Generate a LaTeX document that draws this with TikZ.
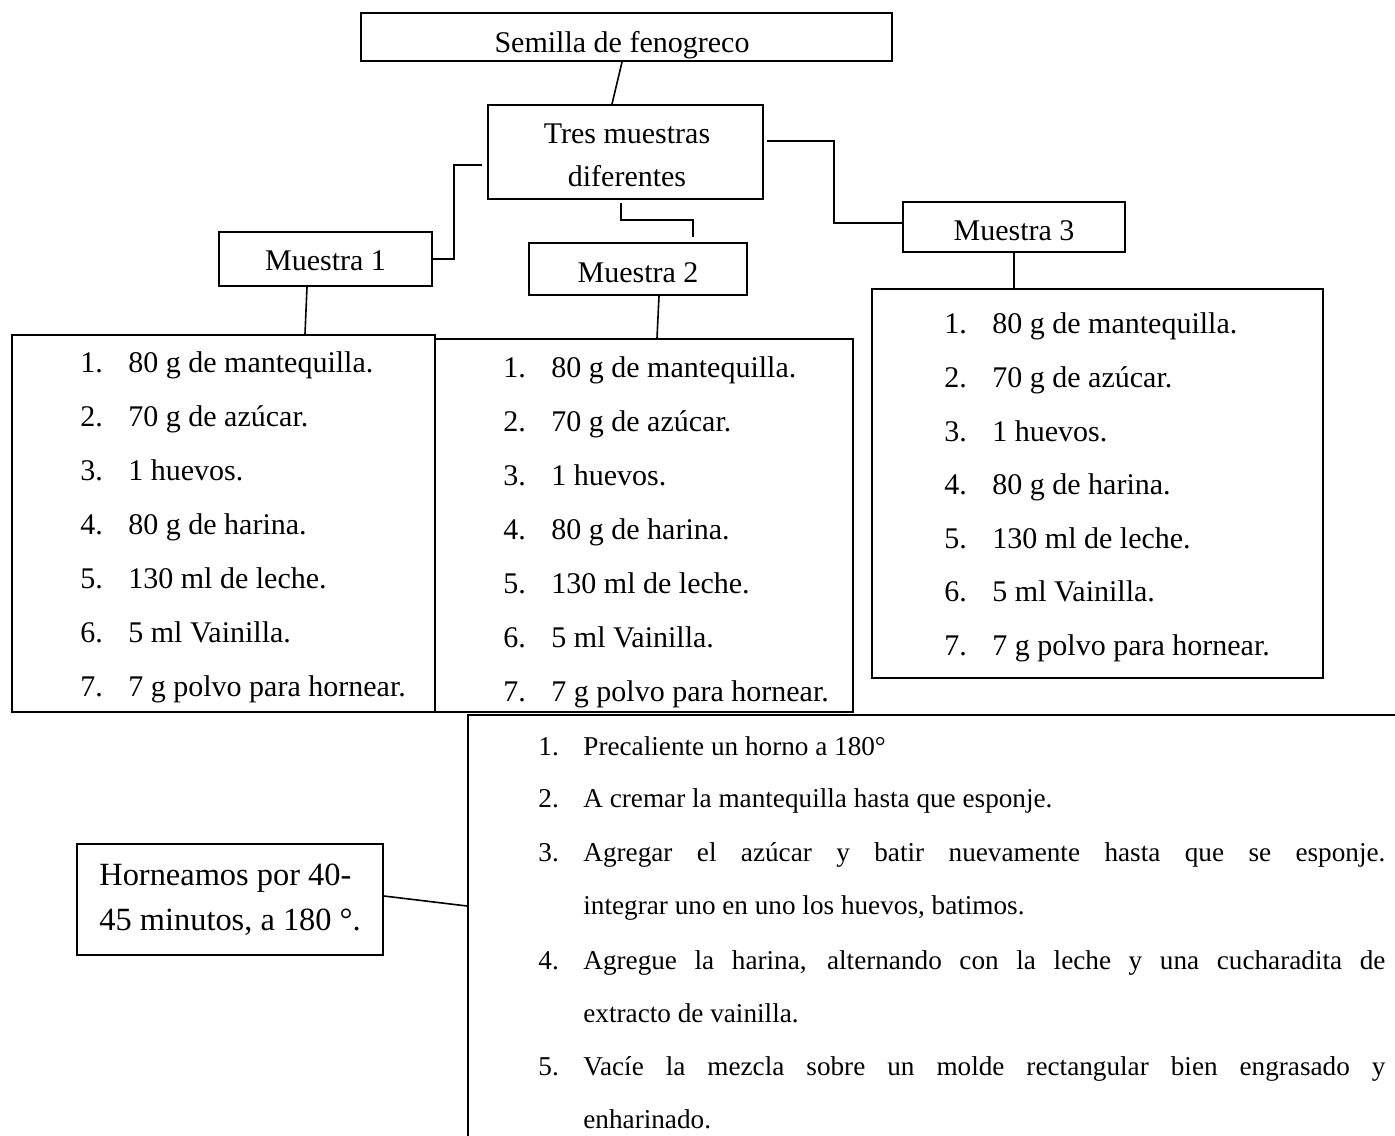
\documentclass[tikz,border=0pt]{standalone}
\usepackage{fontspec}
\setmainfont{Liberation Serif}
\usepackage{tikz}
\usetikzlibrary{positioning}
\newcommand{\itemfont}{\fontsize{15pt}{18pt}\selectfont}
\newcommand{\pasofont}{\fontsize{13.6pt}{16pt}\selectfont}
\newcommand{\hornofont}{\fontsize{16.2pt}{19pt}\selectfont}
\newcommand{\num}[1]{\makebox[24pt][l]{#1}}
\newcommand{\paso}[1]{\makebox[22.5pt][l]{#1}}

\begin{document}
\begin{tikzpicture}
[
  x=0.5pt, y=-0.5pt,
  box/.style={rectangle,draw=black,line width=1pt,inner sep=0pt},
  txt/.style={anchor=base west,inner sep=0pt,font=\itemfont},
  pasotxt/.style={anchor=base west,inner sep=0pt,font=\pasofont},
  mid/.style={anchor=base,inner sep=0pt,font=\itemfont},
  link/.style={draw=black,line width=0.8pt},
]
\useasboundingbox (0,0) rectangle (1395,1135);

% cajas
\node[box,minimum width=265.5pt,minimum height=24pt] (semilla) at (626.5,37) {};
\node[box,minimum width=137.5pt,minimum height=47pt] (tres) at (625.5,152) {};
\node[box,minimum width=106.5pt,minimum height=27pt] (m1) at (325.5,259) {};
\node[box,minimum width=109pt,minimum height=26pt] (m2) at (638,269) {};
\node[box,minimum width=111pt,minimum height=25pt] (m3) at (1014,227) {};
\node[box,minimum width=211.5pt,minimum height=188.5pt] (lista1) at (223.5,523.5) {};
\node[box,minimum width=209pt,minimum height=186.5pt] (lista2) at (644,525.5) {};
\node[box,minimum width=225.5pt,minimum height=194.5pt] (lista3) at (1097.5,483.5) {};
\node[box,minimum width=466pt,minimum height=222.5pt] (pasos) at (934,937.5) {};
\node[box,minimum width=153pt,minimum height=55.5pt] (horno) at (230,899.5) {};

% textos
\node[mid] (semillat) at (622,52) {Semilla de fenogreco};
\node[mid] (tres1) at (627,143) {Tres muestras};
\node[mid] (tres2) at (627,186) {diferentes};
\node[mid] (m1t) at (325.5,270) {Muestra 1};
\node[mid] (m2t) at (638,282) {Muestra 2};
\node[mid] (m3t) at (1014,240) {Muestra 3};

% muestra 1
\node[txt] (a1) at (80,372) {\num{1.}80 g de mantequilla.};
\node[txt] (a2) at (80,426) {\num{2.}70 g de azúcar.};
\node[txt] (a3) at (80,480) {\num{3.}1 huevos.};
\node[txt] (a4) at (80,534) {\num{4.}80 g de harina.};
\node[txt] (a5) at (80,588) {\num{5.}130 ml de leche.};
\node[txt] (a6) at (80,642) {\num{6.}5 ml Vainilla.};
\node[txt] (a7) at (80,696) {\num{7.}7 g polvo para hornear.};

% muestra 2
\node[txt] (b1) at (503,377) {\num{1.}80 g de mantequilla.};
\node[txt] (b2) at (503,431) {\num{2.}70 g de azúcar.};
\node[txt] (b3) at (503,485) {\num{3.}1 huevos.};
\node[txt] (b4) at (503,539) {\num{4.}80 g de harina.};
\node[txt] (b5) at (503,593) {\num{5.}130 ml de leche.};
\node[txt] (b6) at (503,647) {\num{6.}5 ml Vainilla.};
\node[txt] (b7) at (503,701) {\num{7.}7 g polvo para hornear.};

% muestra 3
\node[txt] (c1) at (944,333) {\num{1.}80 g de mantequilla.};
\node[txt] (c2) at (944,387) {\num{2.}70 g de azúcar.};
\node[txt] (c3) at (944,441) {\num{3.}1 huevos.};
\node[txt] (c4) at (944,494) {\num{4.}80 g de harina.};
\node[txt] (c5) at (944,548) {\num{5.}130 ml de leche.};
\node[txt] (c6) at (944,601) {\num{6.}5 ml Vainilla.};
\node[txt] (c7) at (944,655) {\num{7.}7 g polvo para hornear.};

% procedimiento
\node[pasotxt] (p1) at (538,755) {\paso{1.}Precaliente un horno a 180°};
\node[pasotxt] (p2) at (538,807) {\paso{2.}A cremar la mantequilla hasta que esponje.};
\node[pasotxt] (p3) at (538,861) {\paso{3.}\makebox[401pt][s]{Agregar el azúcar y batir nuevamente hasta que se esponje.}};
\node[pasotxt] (p3b) at (583,914) {integrar uno en uno los huevos, batimos.};
\node[pasotxt] (p4) at (538,969) {\paso{4.}\makebox[401pt][s]{Agregue la harina, alternando con la leche y una cucharadita de}};
\node[pasotxt] (p4b) at (583,1022) {extracto de vainilla.};
\node[pasotxt] (p5) at (538,1075) {\paso{5.}\makebox[401pt][s]{Vacíe la mezcla sobre un molde rectangular bien engrasado y}};
\node[pasotxt] (p5b) at (583,1128) {enharinado.};

\node[txt,font=\hornofont] (h1) at (99,885) {Horneamos por 40-};
\node[txt,font=\hornofont] (h2) at (99,930) {45 minutos, a 180 °.};

% conectores
\draw[link] ([xshift=-2.25pt]semilla.south) -- ([xshift=-6.75pt]tres.north);
\draw[link] ([xshift=-2.5pt,yshift=-6.5pt]tres.west) -- ++(-14pt,0pt) |- (m1.east);
\draw[link] ([xshift=-2.25pt,yshift=-1.5pt]tres.south) -- ++(0pt,-8.5pt) -| ([xshift=27.5pt,yshift=2.5pt]m2.north);
\draw[link] ([xshift=1.5pt,yshift=5.5pt]tres.east) -- ++(33.5pt,0pt) |- ([yshift=2pt]m3.west);
\draw[link] ([xshift=-9.25pt]m1.south) -- ([xshift=40.75pt]lista1.north);
\draw[link] ([xshift=10.5pt]m2.south) -- ([xshift=6.5pt]lista2.north);
\draw[link] (m3.south) -- (m3.south |- lista3.north);
\draw[link] ([yshift=1.75pt]horno.east) -- ([yshift=15.75pt]pasos.west);
\end{tikzpicture}
\end{document}
